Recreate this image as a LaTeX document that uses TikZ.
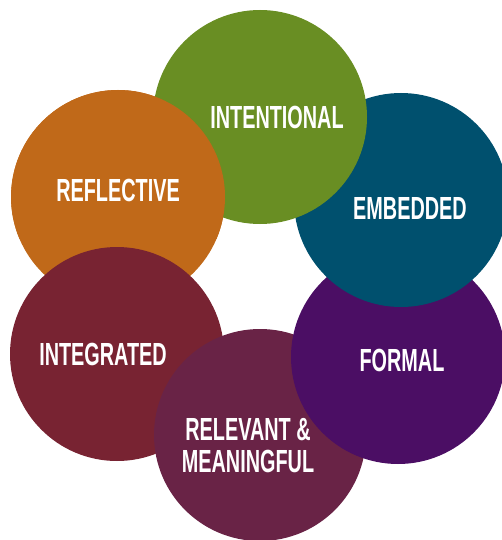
\documentclass[tikz,border=0pt]{standalone}
\usepackage{fontspec}
\newfontfamily\lab[FakeStretch=0.62]{Liberation Sans}
\definecolor{cgreen}{HTML}{698E23}
\definecolor{cteal}{HTML}{00506E}
\definecolor{cpurple}{HTML}{4B0E64}
\definecolor{cplum}{HTML}{692346}
\definecolor{cmaroon}{HTML}{782332}
\definecolor{corange}{HTML}{C06919}
\begin{document}
\begin{tikzpicture}[x=1pt,y=-1pt,
  disc/.style={circle,minimum size=214pt,inner sep=0pt,draw=none},
  lbl/.style={text=white,font={\lab\bfseries\fontsize{32}{32}\selectfont},align=center,inner sep=0pt}]
\useasboundingbox (0,0) rectangle (502,540);
\begin{scope}
\clip (0,0) rectangle (502,540);
\node[disc,fill=corange] (reflective) at (118,197) {};
\node[disc,fill=cmaroon] (integrated) at (117,354) {};
\node[disc,fill=cplum,minimum size=212pt] (relevant) at (260,435) {};
\node[disc,fill=cpurple] (formal) at (398,357) {};
\node[disc,fill=cteal] (embedded) at (401,200) {};
\node[disc,fill=cgreen] (intentional) at (260,117) {};
\begin{scope}
\clip (0,0) rectangle (260,238);
\fill[corange] (reflective.center) circle (107pt);
\end{scope}
\end{scope}
\node[lbl] (tintentional) at (277,117) {INTENTIONAL};
\node[lbl] (treflective) at (118,190) {REFLECTIVE};
\node[lbl] (tembedded) at (410,208) {EMBEDDED};
\node[lbl] (tformal) at (402,360) {FORMAL};
\node[lbl] (tintegrated) at (103,354) {INTEGRATED};
\node[lbl] (trelevant) at (248,446) {RELEVANT \&\\MEANINGFUL};
\end{tikzpicture}
\end{document}
